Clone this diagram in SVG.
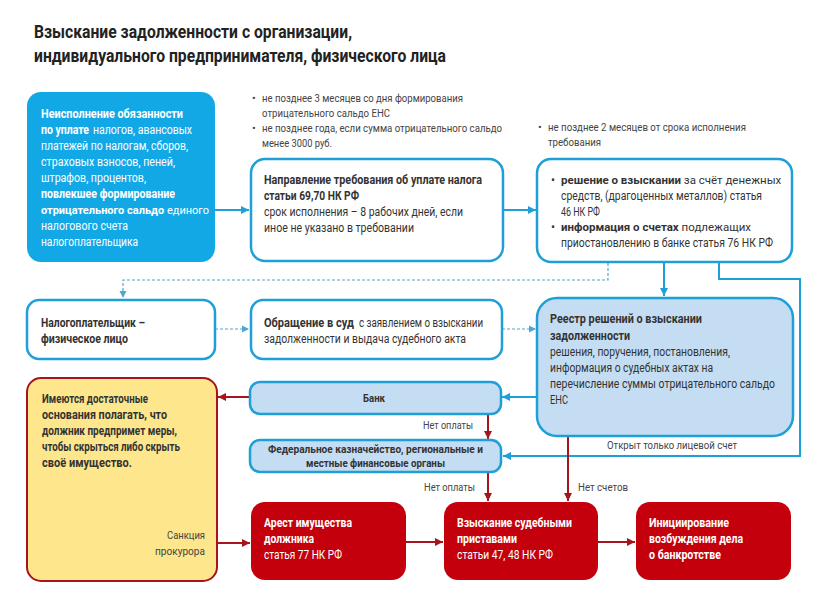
<svg xmlns="http://www.w3.org/2000/svg" width="833" height="612" viewBox="0 0 833 612">
<style>
text{font-family:Roboto,"Liberation Sans",sans-serif;font-size:12px;fill:#333}
.t{font-size:19px;font-weight:bold;fill:#222}
.w{fill:#fff}
.b{font-weight:bold}
.m{font-size:11.5px}
.n{font-size:11px}
.s{font-size:11px;fill:#444}
.l{font-size:11px;fill:#444}
.bx{fill:#fff;stroke:#1e9fd8;stroke-width:2.5}
.lb{fill:#c5ddf2;stroke:#1e9fd8;stroke-width:2.5}
.rd{fill:#c3000b}
.bc{fill:none;stroke:#1e9fd8;stroke-width:2}
.dc{fill:none;stroke:#4fa6d2;stroke-width:1.2;stroke-dasharray:3 2}
.rc{fill:none;stroke:#a8141b;stroke-width:2}
</style>
<defs>
<marker id="ab" markerUnits="userSpaceOnUse" markerWidth="10" markerHeight="10" refX="8" refY="5" orient="auto"><path d="M0,1 L8,5 L0,9 Z" fill="#1e9fd8"/></marker>
<marker id="ad" markerUnits="userSpaceOnUse" markerWidth="10" markerHeight="10" refX="7" refY="5" orient="auto"><path d="M0,1.5 L7,5 L0,8.5 Z" fill="#4fa6d2"/></marker>
<marker id="ar" markerUnits="userSpaceOnUse" markerWidth="10" markerHeight="10" refX="8" refY="5" orient="auto"><path d="M0,1 L8,5 L0,9 Z" fill="#a8141b"/></marker>
</defs>

<g id="title">
<text class="t" x="34" y="38" textLength="318" lengthAdjust="spacingAndGlyphs">Взыскание задолженности с организации,</text>
<text class="t" x="34" y="62" textLength="412" lengthAdjust="spacingAndGlyphs">индивидуального предпринимателя, физического лица</text>
</g>

<g id="connectors">
<path class="bc" d="M215,210 H249" marker-end="url(#ab)"/>
<path class="bc" d="M503,210 H536" marker-end="url(#ab)"/>
<path class="dc" d="M608,263 V280 H123 V298" marker-end="url(#ad)"/>
<path class="bc" d="M664,263 V296" marker-end="url(#ab)"/>
<path class="bc" d="M719,263 V279 H800 V456 H503" marker-end="url(#ab)"/>
<path class="dc" d="M215,329 H249" marker-end="url(#ad)"/>
<path class="dc" d="M502,329 H536" marker-end="url(#ad)"/>
<path class="bc" d="M537,397 H502" marker-end="url(#ab)"/>
<path class="rc" d="M250,397 H218" marker-end="url(#ar)"/>
<path class="rc" d="M488,415 V439" marker-end="url(#ar)"/>
<path class="rc" d="M488,473 V501" marker-end="url(#ar)"/>
<path class="rc" d="M568,437 V501" marker-end="url(#ar)"/>
<path class="rc" d="M217,543 H250" marker-end="url(#ar)"/>
<path class="rc" d="M406,542 H443" marker-end="url(#ar)"/>
<path class="rc" d="M598,542 H635" marker-end="url(#ar)"/>
<text class="l" x="423" y="429" textLength="50" lengthAdjust="spacingAndGlyphs">Нет оплаты</text>
<text class="l" x="424" y="491" textLength="51" lengthAdjust="spacingAndGlyphs">Нет оплаты</text>
<text class="l" x="578" y="491" textLength="50" lengthAdjust="spacingAndGlyphs">Нет счетов</text>
<text class="l" x="607" y="449" textLength="130" lengthAdjust="spacingAndGlyphs">Открыт только лицевой счет</text>
</g>

<g id="notes">
<text class="s" x="252" y="102">•</text>
<text class="s" x="262" y="102" textLength="201" lengthAdjust="spacingAndGlyphs">не позднее 3 месяцев со дня формирования</text>
<text class="s" x="262" y="117" textLength="128" lengthAdjust="spacingAndGlyphs">отрицательного сальдо ЕНС</text>
<text class="s" x="252" y="132">•</text>
<text class="s" x="262" y="132" textLength="240" lengthAdjust="spacingAndGlyphs">не позднее года, если сумма отрицательного сальдо</text>
<text class="s" x="262" y="147" textLength="70" lengthAdjust="spacingAndGlyphs">менее 3000 руб.</text>
<text class="s" x="538" y="131">•</text>
<text class="s" x="548" y="131" textLength="198" lengthAdjust="spacingAndGlyphs">не позднее 2 месяцев от срока исполнения</text>
<text class="s" x="548" y="146" textLength="53" lengthAdjust="spacingAndGlyphs">требования</text>
</g>

<g id="n-nonpayment">
<rect x="27" y="92" width="188" height="170" rx="14" fill="#12a8e6"/>
<text class="w b" x="41" y="118" textLength="142" lengthAdjust="spacingAndGlyphs">Неисполнение обязанности</text>
<text class="w b" x="41" y="134" textLength="48" lengthAdjust="spacingAndGlyphs">по уплате</text>
<text class="w" x="93" y="134" textLength="99" lengthAdjust="spacingAndGlyphs">налогов, авансовых</text>
<text class="w" x="41" y="150" textLength="147" lengthAdjust="spacingAndGlyphs">платежей по налогам, сборов,</text>
<text class="w" x="41" y="166" textLength="134" lengthAdjust="spacingAndGlyphs">страховых взносов, пеней,</text>
<text class="w" x="41" y="182" textLength="105" lengthAdjust="spacingAndGlyphs">штрафов, процентов,</text>
<text class="w b" x="41" y="198" textLength="134" lengthAdjust="spacingAndGlyphs">повлекшее формирование</text>
<text class="w n" x="41" y="214"><tspan class="w b">отрицательного сальдо</tspan> единого</text>
<text class="w" x="41" y="230" textLength="87" lengthAdjust="spacingAndGlyphs">налогового счета</text>
<text class="w" x="41" y="246" textLength="97" lengthAdjust="spacingAndGlyphs">налогоплательщика</text>
</g>

<g id="n-demand">
<rect class="bx" x="251" y="159" width="252" height="102" rx="14"/>
<text class="b" x="264" y="184" textLength="218" lengthAdjust="spacingAndGlyphs">Направление требования об уплате налога</text>
<text class="b" x="264" y="200" textLength="95" lengthAdjust="spacingAndGlyphs">статьи 69,70 НК РФ</text>
<text x="264" y="216" textLength="199" lengthAdjust="spacingAndGlyphs">срок исполнения – 8 рабочих дней, если</text>
<text x="264" y="232" textLength="150" lengthAdjust="spacingAndGlyphs">иное не указано в требовании</text>
</g>

<g id="n-decision">
<rect class="bx" x="537" y="159" width="255" height="103" rx="14"/>
<text x="551" y="184">•</text>
<text class="m" x="561" y="184"><tspan class="b">решение о взыскании</tspan> за счёт денежных</text>
<text x="561" y="200" textLength="201" lengthAdjust="spacingAndGlyphs">средств, (драгоценных металлов) статья</text>
<text x="561" y="216" textLength="39" lengthAdjust="spacingAndGlyphs">46 НК РФ</text>
<text x="551" y="231">•</text>
<text class="m" x="561" y="231"><tspan class="b">информация о счетах</tspan> подлежащих</text>
<text x="561" y="247" textLength="212" lengthAdjust="spacingAndGlyphs">приостановлению в банке статья 76 НК РФ</text>
</g>

<g id="n-taxpayer">
<rect class="bx" x="27" y="300" width="188" height="59" rx="12"/>
<text class="b" x="41" y="327" textLength="104" lengthAdjust="spacingAndGlyphs">Налогоплательщик –</text>
<text class="b" x="41" y="343" textLength="87" lengthAdjust="spacingAndGlyphs">физическое лицо</text>
</g>

<g id="n-court">
<rect class="bx" x="251" y="300" width="251" height="59" rx="12"/>
<text class="b" x="264" y="327" textLength="90" lengthAdjust="spacingAndGlyphs">Обращение в суд</text>
<text x="359" y="327" textLength="124" lengthAdjust="spacingAndGlyphs">с заявлением о взыскании</text>
<text x="264" y="343" textLength="202" lengthAdjust="spacingAndGlyphs">задолженности и выдача судебного акта</text>
</g>

<g id="n-registry">
<rect class="lb" x="537" y="298" width="256" height="138" rx="20"/>
<text class="b" x="550" y="323" textLength="152" lengthAdjust="spacingAndGlyphs">Реестр решений  о взыскании</text>
<text class="b" x="550" y="340" textLength="80" lengthAdjust="spacingAndGlyphs">задолженности</text>
<text x="550" y="356" textLength="180" lengthAdjust="spacingAndGlyphs">решения, поручения, постановления,</text>
<text x="550" y="372" textLength="163" lengthAdjust="spacingAndGlyphs">информация о судебных актах на</text>
<text x="550" y="388" textLength="225" lengthAdjust="spacingAndGlyphs">перечисление суммы отрицательного сальдо</text>
<text x="550" y="404" textLength="18" lengthAdjust="spacingAndGlyphs">ЕНС</text>
</g>

<g id="n-bank">
<rect class="lb" x="250" y="382" width="251" height="32" rx="10"/>
<text class="b" x="363" y="402" textLength="22" lengthAdjust="spacingAndGlyphs" style="font-size:11px">Банк</text>
</g>

<g id="n-treasury">
<rect class="lb" x="250" y="440" width="251" height="32" rx="10"/>
<text class="b" x="268" y="453" textLength="215" lengthAdjust="spacingAndGlyphs" style="font-size:11px">Федеральное казначейство, региональные  и</text>
<text class="b" x="306" y="467" textLength="139" lengthAdjust="spacingAndGlyphs" style="font-size:11px">местные финансовые органы</text>
</g>

<g id="n-grounds">
<rect x="27" y="378" width="190" height="203" rx="14" fill="#fde68c" stroke="#a8141b" stroke-width="2"/>
<text class="b" x="42" y="403" textLength="106" lengthAdjust="spacingAndGlyphs">Имеются достаточные</text>
<text class="b" x="42" y="419" textLength="125" lengthAdjust="spacingAndGlyphs">основания полагать, что</text>
<text class="b" x="42" y="435" textLength="135" lengthAdjust="spacingAndGlyphs">должник предпримет меры,</text>
<text class="b" x="42" y="451" textLength="138" lengthAdjust="spacingAndGlyphs">чтобы скрыться либо скрыть</text>
<text class="b" x="42" y="467" textLength="90" lengthAdjust="spacingAndGlyphs">своё имущество.</text>
<text class="l" x="167" y="539" textLength="38" lengthAdjust="spacingAndGlyphs">Санкция</text>
<text class="l" x="155" y="555" textLength="50" lengthAdjust="spacingAndGlyphs">прокурора</text>
</g>

<g id="n-arrest">
<rect class="rd" x="251" y="502" width="155" height="78" rx="14"/>
<text class="w b" x="264" y="527" textLength="88" lengthAdjust="spacingAndGlyphs">Арест имущества</text>
<text class="w b" x="264" y="543" textLength="50" lengthAdjust="spacingAndGlyphs">должника</text>
<text class="w" x="264" y="559" textLength="78" lengthAdjust="spacingAndGlyphs">статья 77 НК РФ</text>
</g>

<g id="n-bailiffs">
<rect class="rd" x="444" y="502" width="154" height="78" rx="14"/>
<text class="w b" x="457" y="527" textLength="115" lengthAdjust="spacingAndGlyphs">Взыскание судебными</text>
<text class="w b" x="457" y="543" textLength="60" lengthAdjust="spacingAndGlyphs">приставами</text>
<text class="w" x="457" y="559" textLength="96" lengthAdjust="spacingAndGlyphs">статьи 47, 48 НК РФ</text>
</g>

<g id="n-bankruptcy">
<rect class="rd" x="636" y="502" width="155" height="78" rx="14"/>
<text class="w b" x="649" y="527" textLength="80" lengthAdjust="spacingAndGlyphs">Инициирование</text>
<text class="w b" x="649" y="543" textLength="94" lengthAdjust="spacingAndGlyphs">возбуждения дела</text>
<text class="w b" x="649" y="559" textLength="72" lengthAdjust="spacingAndGlyphs">о банкротстве</text>
</g>
</svg>
